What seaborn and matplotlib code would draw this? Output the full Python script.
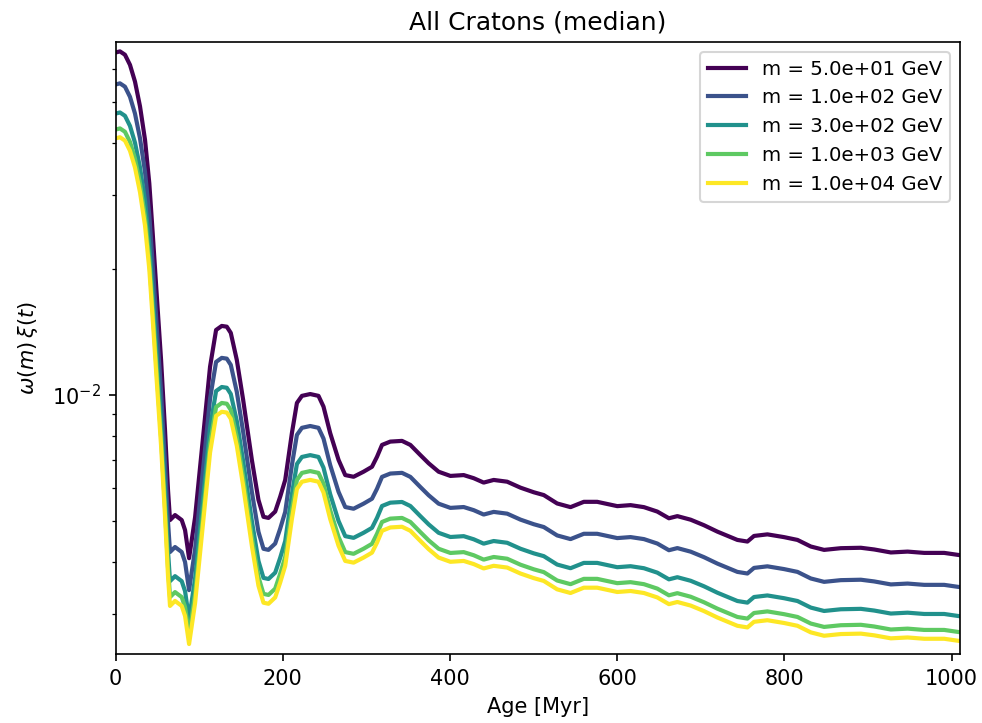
import numpy as np
import pandas as pd
import matplotlib
matplotlib.use("Agg")
import matplotlib.pyplot as plt
from matplotlib.ticker import NullFormatter
import seaborn as sns

# Age grid [Myr] and the median time profile xi(t) for all cratons
age_myr = [0.0, 5.1, 11.1, 17.1, 23.1, 29.1, 35.1, 40.2, 44.3, 49.5,
           54.3, 59.0, 62.6, 65.0, 71.0, 79.0, 83.0, 87.8, 95.0, 103.0,
           112.9, 120.1, 126.9, 132.9, 137.7, 144.9, 152.5, 162.9, 170.8, 176.8,
           182.8, 190.8, 196.8, 202.8, 210.8, 216.8, 222.8, 232.7, 242.6, 248.6,
           256.6, 266.6, 274.6, 284.6, 296.5, 306.6, 312.6, 318.6, 328.5, 342.5,
           352.5, 364.4, 374.4, 386.3, 400.4, 416.3, 428.3, 440.2, 452.2, 468.3,
           484.2, 500.1, 512.1, 528.1, 544.1, 560.0, 576.0, 600.0, 615.9, 631.9,
           647.9, 661.8, 671.9, 687.8, 703.7, 719.8, 743.7, 755.7, 763.6, 779.6,
           799.5, 815.6, 831.5, 847.4, 867.4, 891.4, 907.3, 927.3, 947.3, 967.2,
           991.1, 1009.1]

xi_t = [0.0656, 0.0660, 0.0648, 0.0613, 0.0559, 0.0488, 0.0406, 0.0320, 0.0243, 0.01686,
        0.01212, 0.00825, 0.00593, 0.00503, 0.00517, 0.00503, 0.00476, 0.00408, 0.00511, 0.00739,
        0.01168, 0.01429, 0.01461, 0.01455, 0.01406, 0.01212, 0.00973, 0.00700, 0.00562, 0.00512,
        0.00509, 0.00527, 0.00572, 0.00627, 0.00811, 0.00957, 0.00995, 0.01005, 0.00995, 0.00938,
        0.00811, 0.00700, 0.00644, 0.00638, 0.00656, 0.00674, 0.00712, 0.00760, 0.00774, 0.00777,
        0.00760, 0.00719, 0.00687, 0.00656, 0.00641, 0.00644, 0.00633, 0.00618, 0.00627, 0.00621,
        0.00601, 0.00586, 0.00577, 0.00551, 0.00540, 0.00556, 0.00556, 0.00543, 0.00546, 0.00540,
        0.00527, 0.00508, 0.00514, 0.00504, 0.00489, 0.00472, 0.00451, 0.00447, 0.00461, 0.00465,
        0.00458, 0.00451, 0.00435, 0.00427, 0.00431, 0.00432, 0.00428, 0.00421, 0.00423, 0.00420,
        0.00420, 0.00415]

# Dark-matter masses [GeV] and their weights omega(m)
masses_gev = [5.0e1, 1.0e2, 3.0e2, 1.0e3, 1.0e4]
omega_m = [1.000, 0.839, 0.715, 0.655, 0.624]

labels = [f"m = {m:.1e} GeV" for m in masses_gev]

rows = []
for lab, w in zip(labels, omega_m):
    for t, x in zip(age_myr, xi_t):
        rows.append({"age": t, "value": w * x, "mass": lab})
df = pd.DataFrame(rows)

colors = [plt.cm.viridis(v) for v in np.linspace(0, 1, len(masses_gev))]

fig = plt.figure(figsize=(982 / 150, 723 / 150), dpi=150)
ax = fig.add_axes([0.1178, 0.0954, 0.9776 - 0.1178, 0.9423 - 0.0954])

sns.lineplot(data=df, x="age", y="value", hue="mass", hue_order=labels,
             palette=colors, linewidth=2, ax=ax, legend=True)

ax.set_yscale("log")
ax.set_xlim(0, 1010)
ax.set_ylim(2.41e-3, 6.96e-2)
ax.yaxis.set_minor_formatter(NullFormatter())
ax.set_xlabel("Age [Myr]")
ax.set_ylabel(r"$\omega(m)\,\xi(t)$", labelpad=6)
ax.set_title("All Cratons (median)")
ax.legend(loc="upper right", title=None, fontsize=9.5, handlelength=1.9)

fig.savefig("out.png", dpi=150)
